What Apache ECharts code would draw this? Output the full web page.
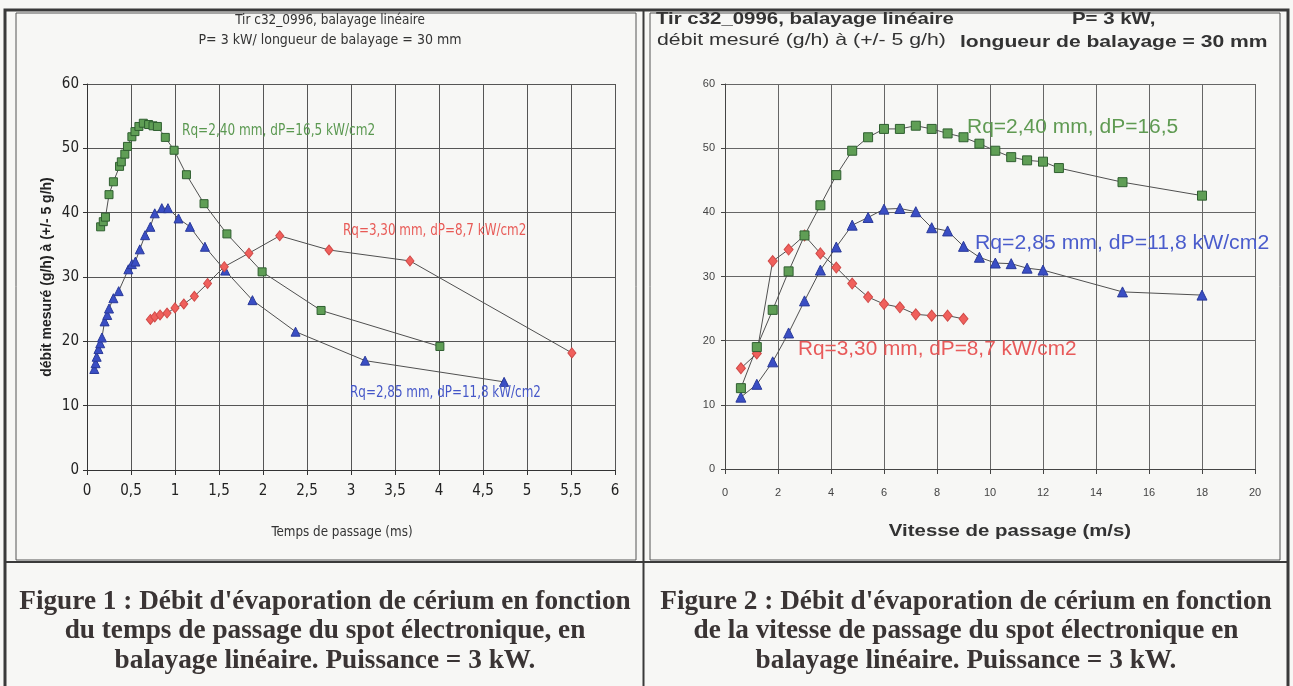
<!DOCTYPE html>
<html>
<head>
<meta charset="utf-8">
<script src="https://cdn.jsdelivr.net/npm/echarts@6/dist/echarts.min.js"></script>
<style>
html, body { margin: 0; padding: 0; background: #f7f7f5; }
#main { width: 1293px; height: 686px; }
</style>
</head>
<body>
<div id="main"></div>
<script>
// Figure 1 : temps de passage (ms) -> debit (g/h)
var leftGreenX = [0.155, 0.185, 0.21, 0.25, 0.30, 0.37, 0.39, 0.43, 0.46, 0.51, 0.545, 0.59, 0.64, 0.70, 0.75, 0.80, 0.89, 0.99, 1.13, 1.33, 1.59, 1.99, 2.66, 4.01];
var leftGreenY = [37.8, 38.6, 39.3, 42.8, 44.8, 47.2, 47.9, 49.1, 50.3, 51.8, 52.6, 53.4, 53.9, 53.7, 53.5, 53.4, 51.7, 49.7, 45.9, 41.4, 36.7, 30.8, 24.8, 19.2];
var leftBlueX = [0.083, 0.098, 0.11, 0.13, 0.15, 0.17, 0.20, 0.23, 0.25, 0.30, 0.36, 0.47, 0.51, 0.55, 0.60, 0.66, 0.72, 0.77, 0.85, 0.92, 1.04, 1.17, 1.34, 1.57, 1.88, 2.37, 3.16, 4.74];
var leftBlueY = [15.7, 16.6, 17.6, 18.8, 19.7, 20.6, 23.1, 24.1, 25.1, 26.7, 27.8, 31.2, 32.0, 32.4, 34.3, 36.5, 37.8, 39.9, 40.7, 40.7, 39.1, 37.8, 34.7, 31.0, 26.4, 21.5, 17.0, 13.7];
var leftRedX = [0.72, 0.77, 0.83, 0.91, 1.0, 1.10, 1.22, 1.37, 1.56, 1.84, 2.19, 2.75, 3.67, 5.51];
var leftRedY = [23.4, 23.8, 24.1, 24.4, 25.2, 25.8, 27.0, 29.0, 31.6, 33.7, 36.4, 34.2, 32.5, 18.2];

// Figure 2 : vitesse de passage (m/s) -> debit (g/h)
var rightGreenX = [0.6, 1.2, 1.8, 2.4, 3.0, 3.6, 4.2, 4.8, 5.4, 6.0, 6.6, 7.2, 7.8, 8.4, 9.0, 9.6, 10.2, 10.8, 11.4, 12.0, 12.6, 15, 18];
var rightGreenY = [12.6, 19.0, 24.8, 30.8, 36.4, 41.1, 45.8, 49.6, 51.7, 53.0, 53.0, 53.5, 53.0, 52.3, 51.7, 50.7, 49.6, 48.6, 48.1, 47.9, 46.9, 44.7, 42.6];
var rightBlueX = [0.6, 1.2, 1.8, 2.4, 3.0, 3.6, 4.2, 4.8, 5.4, 6.0, 6.6, 7.2, 7.8, 8.4, 9.0, 9.6, 10.2, 10.8, 11.4, 12.0, 15, 18];
var rightBlueY = [11.2, 13.2, 16.7, 21.2, 26.2, 31.0, 34.6, 38.0, 39.2, 40.5, 40.6, 40.1, 37.6, 37.1, 34.7, 33.0, 32.1, 32.0, 31.3, 31.0, 27.6, 27.1];
var rightRedX = [0.6, 1.2, 1.8, 2.4, 3.0, 3.6, 4.2, 4.8, 5.4, 6.0, 6.6, 7.2, 7.8, 8.4, 9.0];
var rightRedY = [15.7, 18.0, 32.4, 34.2, 36.4, 33.6, 31.4, 28.9, 26.8, 25.7, 25.2, 24.1, 23.9, 23.9, 23.4];

var seriesNames = ['Rq=2,40 mm, dP=16,5 kW/cm2', 'Rq=2,85 mm, dP=11,8 kW/cm2', 'Rq=3,30 mm, dP=8,7 kW/cm2'];

var NARROW = "'Liberation Sans Narrow','DejaVu Sans Condensed','Liberation Sans',Arial,sans-serif";
var SANS = "'Liberation Sans',Arial,sans-serif";
var SERIF = "'Liberation Serif','Times New Roman',serif";

var GREEN = '#5f9e55', GREEN_EDGE = '#2f5f30';
var BLUE = '#3a4ec4', BLUE_EDGE = '#2a3a9a';
var RED = '#f0605c', RED_EDGE = '#d04a48';

function pairs(xs, ys) {
    var out = [];
    for (var i = 0; i < xs.length; i++) out.push([xs[i], ys[i]]);
    return out;
}

function makeSeries(name, data, idx, symbol, size, fill, edge) {
    return {
        name: name,
        type: 'line',
        xAxisIndex: idx,
        yAxisIndex: idx,
        data: data,
        symbol: symbol,
        symbolSize: size,
        showSymbol: true,
        lineStyle: { color: '#505050', width: 1 },
        itemStyle: { color: fill, borderColor: edge, borderWidth: 1 },
        emphasis: { disabled: true },
        z: 3
    };
}

// text with optional horizontal stretch (the scan is not square)
function txt(text, x, y, font, fill, align, sx) {
    return {
        type: 'text',
        z: 10,
        x: x,
        y: y,
        scaleX: sx || 1,
        style: { text: text, x: 0, y: 0, font: font, fill: fill, align: align || 'left', verticalAlign: 'middle' }
    };
}

function line(x1, y1, x2, y2, w, c) {
    return { type: 'line', z: 1, shape: { x1: x1, y1: y1, x2: x2, y2: y2 }, style: { stroke: c || '#333', lineWidth: w } };
}

function rect(x, y, w, h, lw, c) {
    return { type: 'rect', z: 1, shape: { x: x, y: y, width: w, height: h }, style: { fill: null, stroke: c || '#333', lineWidth: lw } };
}

var comma = function (v) { return String(v).replace('.', ','); };

var option = {
    backgroundColor: '#f7f7f5',
    animation: false,
    grid: [
        { left: 87, top: 84, width: 528, height: 386 },
        { left: 725, top: 84, width: 530, height: 385 }
    ],
    xAxis: [
        {
            type: 'value', gridIndex: 0, min: 0, max: 6, interval: 0.5,
            axisLine: { show: true, onZero: false, lineStyle: { color: '#333', width: 1 } },
            axisTick: { show: true, length: 5, lineStyle: { color: '#333' } },
            splitLine: { show: true, lineStyle: { color: '#555', width: 1 } },
            axisLabel: { formatter: comma, fontFamily: NARROW, fontSize: 15, color: '#222', margin: 14 }
        },
        {
            type: 'value', gridIndex: 1, min: 0, max: 20, interval: 2,
            axisLine: { show: true, onZero: false, lineStyle: { color: '#444', width: 1 } },
            axisTick: { show: true, length: 5, lineStyle: { color: '#444' } },
            splitLine: { show: true, lineStyle: { color: '#666', width: 1 } },
            axisLabel: { fontFamily: SANS, fontSize: 11, color: '#444', margin: 18 }
        }
    ],
    yAxis: [
        {
            type: 'value', gridIndex: 0, min: 0, max: 60, interval: 10,
            name: 'débit mesuré (g/h) à (+/- 5 g/h)',
            nameLocation: 'middle', nameGap: 33,
            nameTextStyle: { fontFamily: SANS, fontSize: 14, fontWeight: 'bold', color: '#222' },
            axisLine: { show: true, lineStyle: { color: '#333', width: 1 } },
            axisTick: { show: true, length: 4, lineStyle: { color: '#333' } },
            splitLine: { show: true, lineStyle: { color: '#555', width: 1 } },
            axisLabel: { fontFamily: NARROW, fontSize: 15, color: '#222', margin: 8 }
        },
        {
            type: 'value', gridIndex: 1, min: 0, max: 60, interval: 10,
            axisLine: { show: true, lineStyle: { color: '#444', width: 1 } },
            axisTick: { show: true, length: 4, lineStyle: { color: '#444' } },
            splitLine: { show: true, lineStyle: { color: '#666', width: 1 } },
            axisLabel: { fontFamily: SANS, fontSize: 11, color: '#444', margin: 10 }
        }
    ],
    series: [
        makeSeries(seriesNames[0], pairs(leftGreenX, leftGreenY), 0, 'rect', 8, GREEN, GREEN_EDGE),
        makeSeries(seriesNames[1], pairs(leftBlueX, leftBlueY), 0, 'triangle', 9, BLUE, BLUE_EDGE),
        makeSeries(seriesNames[2], pairs(leftRedX, leftRedY), 0, 'diamond', [8, 10], RED, RED_EDGE),
        makeSeries(seriesNames[2], pairs(rightRedX, rightRedY), 1, 'diamond', [9, 11], RED, RED_EDGE),
        makeSeries(seriesNames[1], pairs(rightBlueX, rightBlueY), 1, 'triangle', 10, BLUE, BLUE_EDGE),
        makeSeries(seriesNames[0], pairs(rightGreenX, rightGreenY), 1, 'rect', 9, GREEN, GREEN_EDGE)
    ],
    graphic: [
        // table and chart frames
        rect(5, 10, 1283, 690, 3, '#3a3a3a'),
        rect(16, 13, 620, 547, 1, '#555'),
        rect(650, 13, 630, 547, 1, '#555'),
        line(643.5, 10, 643.5, 686, 2, '#3a3a3a'),
        line(5, 562, 1288, 562, 2, '#3a3a3a'),

        // Figure 1 texts
        txt('Tir c32_0996, balayage linéaire', 330, 20, '14px ' + NARROW, '#333', 'center', 0.96),
        txt('P= 3 kW/ longueur de balayage = 30 mm', 330, 40, '14px ' + NARROW, '#333', 'center', 1),
        txt('Temps de passage (ms)', 342, 532, '14px ' + NARROW, '#333', 'center', 0.95),
        txt(seriesNames[0], 182, 131, '16px ' + NARROW, '#5a9850', 'left', 0.84),
        txt(seriesNames[2], 343, 231, '16px ' + NARROW, '#e85a56', 'left', 0.83),
        txt(seriesNames[1], 350, 393, '16px ' + NARROW, '#4456c8', 'left', 0.83),

        // Figure 2 texts
        txt('Tir c32_0996, balayage linéaire', 656, 19, 'bold 17px ' + SANS, '#333', 'left', 1.2),
        txt('débit mesuré (g/h) à (+/- 5 g/h)', 657, 40, '17px ' + SANS, '#333', 'left', 1.25),
        txt('P= 3 kW,', 1072, 19, 'bold 17px ' + SANS, '#333', 'left', 1.2),
        txt('longueur de balayage = 30 mm', 960, 42, 'bold 17px ' + SANS, '#333', 'left', 1.24),
        txt('Vitesse de passage (m/s)', 1010, 531, 'bold 17px ' + SANS, '#333', 'center', 1.2),
        txt('Rq=2,40 mm, dP=16,5', 967, 127, '20px ' + SANS, '#5f9a52', 'left', 1.05),
        txt('Rq=2,85 mm, dP=11,8 kW/cm2', 975, 243, '20px ' + SANS, '#4a5ccc', 'left', 1.06),
        txt('Rq=3,30 mm, dP=8,7 kW/cm2', 798, 349, '20px ' + SANS, '#e85a5a', 'left', 1.04),

        // captions
        txt("Figure 1 : Débit d'évaporation de cérium en fonction", 325, 602, 'bold 27px ' + SERIF, '#3a3434', 'center', 1.01),
        txt('du temps de passage du spot électronique, en', 325, 631, 'bold 27px ' + SERIF, '#3a3434', 'center', 1.01),
        txt('balayage linéaire. Puissance = 3 kW.', 325, 661, 'bold 27px ' + SERIF, '#3a3434', 'center', 1.01),
        txt("Figure 2 : Débit d'évaporation de cérium en fonction", 966, 602, 'bold 27px ' + SERIF, '#3a3434', 'center', 1.01),
        txt('de la vitesse de passage du spot électronique en', 966, 631, 'bold 27px ' + SERIF, '#3a3434', 'center', 1.01),
        txt('balayage linéaire. Puissance = 3 kW.', 966, 661, 'bold 27px ' + SERIF, '#3a3434', 'center', 1.01)
    ]
};

var chart = echarts.init(document.getElementById('main'));
chart.setOption(option);
</script>
</body>
</html>
